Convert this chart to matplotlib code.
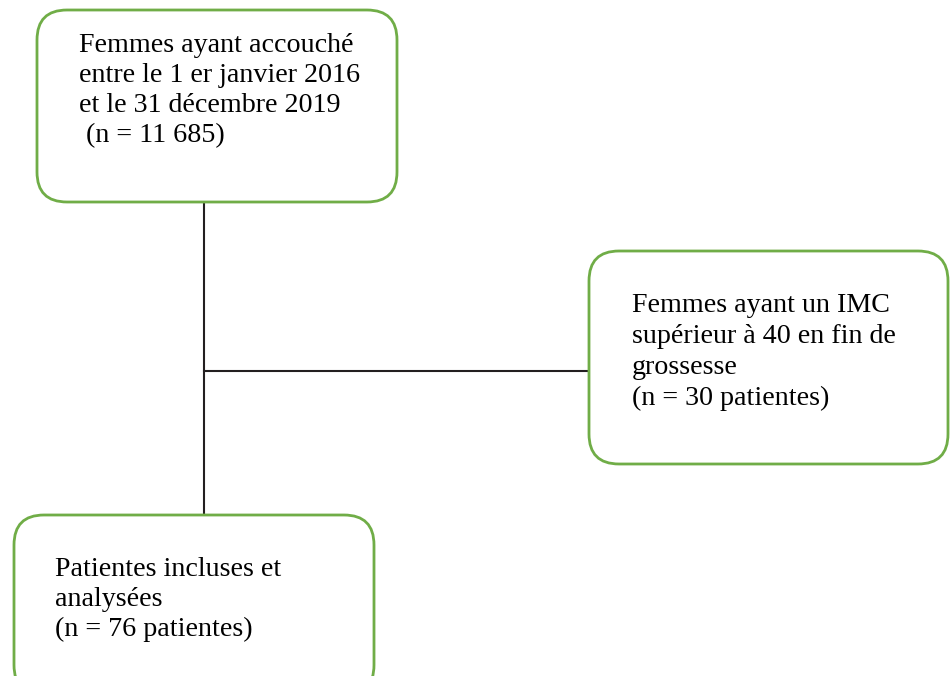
import matplotlib.pyplot as plt
from matplotlib.patches import FancyBboxPatch

# flowchart content
top_lines = ["Femmes ayant accouché",
             "entre le 1 er janvier 2016",
             "et le 31 décembre 2019",
             " (n = 11 685)"]
excl_lines = ["Femmes ayant un IMC",
              "supérieur à 40 en fin de",
              "grossesse",
              "(n = 30 patientes)"]
incl_lines = ["Patientes incluses et",
              "analysées",
              "(n = 76 patientes)"]

W, H = 951, 676
fig = plt.figure(figsize=(W / 100, H / 100), dpi=100)
ax = fig.add_axes([0, 0, 1, 1])
ax.set_xlim(0, W)
ax.set_ylim(H, 0)
ax.axis('off')

green = '#70AD47'
ink = '#231F20'

# boxes: (x, y, w, h)
boxes = [(37, 10, 360, 192), (589, 251, 359, 213), (14, 515, 360, 180)]
for (x, y, w, h) in boxes:
    ax.add_patch(FancyBboxPatch((x, y), w, h,
                                boxstyle="round,pad=0,rounding_size=30",
                                fc='white', ec=green, lw=2.0, zorder=2))

# connectors
ax.plot([204, 204], [202, 515], color=ink, lw=1.5, zorder=1)
ax.plot([204, 589], [371, 371], color=ink, lw=1.5, zorder=1)

def draw_block(lines, x, y0, step):
    for i, s in enumerate(lines):
        ax.text(x, y0 + i * step, s, fontsize=20.2, family='Liberation Serif',
                color='black', ha='left', va='baseline', zorder=3)

draw_block(top_lines, 79, 52, 30)
draw_block(excl_lines, 632, 312, 31)
draw_block(incl_lines, 55, 576, 30)

fig.savefig('out.png', dpi=100)
